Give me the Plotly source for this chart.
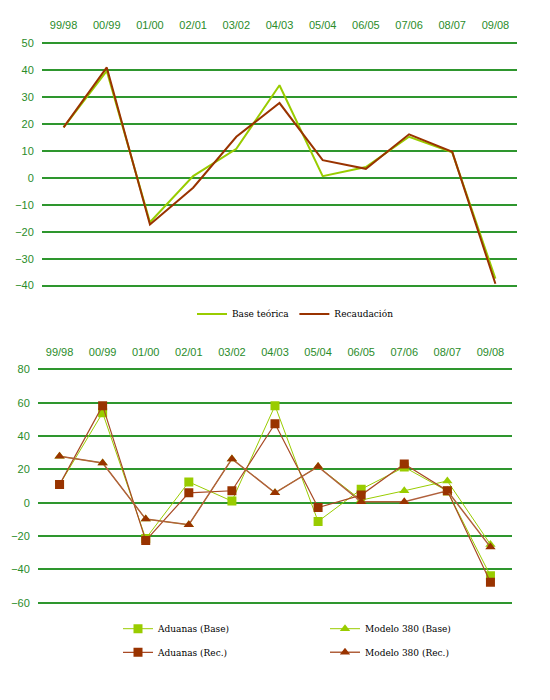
import plotly.graph_objects as go

# campaigns (shown on the top edge of both panels)
SEASONS = ["99/98", "00/99", "01/00", "02/01", "03/02", "04/03",
           "05/04", "06/05", "07/06", "08/07", "09/08"]

# upper panel
BASE_TEORICA = [18.7, 39.6, -16.5, 0.6, 10.7, 34.3, 0.6, 4.0, 15.2, 9.4, -37.4]
RECAUDACION = [18.7, 40.9, -17.3, -3.7, 15.2, 27.7, 6.5, 3.3, 16.1, 9.6, -39.3]

# lower panel
ADUANAS_BASE = [10.9, 54.0, -21.5, 12.5, 1.0, 58.3, -11.2, 8.1, 21.4, 7.0, -43.8]
MODELO_BASE = [27.9, 23.9, -9.8, -13.2, 26.3, 6.0, 21.7, 1.6, 7.2, 13.1, -25.0]
ADUANAS_REC = [10.9, 58.3, -22.7, 6.0, 7.2, 47.4, -2.9, 4.6, 23.3, 7.2, -47.7]
MODELO_REC = [27.9, 23.9, -9.8, -13.2, 26.3, 6.0, 21.7, 0.6, 0.6, 7.2, -26.6]

GREEN = "#99cc00"
RED = "#993300"
GRID = "#2e962e"
TICK_TXT = "#2a8c2a"
SERIF = "DejaVu Serif"   # the only serif face that resolves here

# page body has an 8px margin; keep the figure a bit short so the page
# never overflows the window
OFF = 8
W, H = 550 - 2 * OFF, 676


def px_x(x):
    return (x - OFF) / W


def px_y(y):
    return 1 - (y - OFF) / H


fig = go.Figure()

# upper chart: plain lines
fig.add_trace(go.Scatter(x=SEASONS, y=BASE_TEORICA, name="Base teórica", mode="lines",
                         line=dict(color=GREEN, width=2), legend="legend"))
fig.add_trace(go.Scatter(x=SEASONS, y=RECAUDACION, name="Recaudación", mode="lines",
                         line=dict(color=RED, width=2), legend="legend"))

# lower chart: lines + markers, one legend box per entry so the 2x2 grid lines up
lower = [
    ("Aduanas (Base)", ADUANAS_BASE, GREEN, GREEN, 1, "square", "legend2"),
    ("Modelo 380 (Base)", MODELO_BASE, GREEN, GREEN, 1, "triangle-up", "legend3"),
    ("Aduanas (Rec.)", ADUANAS_REC, RED, "#a84a25", 1.2, "square", "legend4"),
    ("Modelo 380 (Rec.)", MODELO_REC, RED, "#b0603c", 1.5, "triangle-up", "legend5"),
]
for name, vals, col, lcol, lw, sym, leg in lower:
    fig.add_trace(go.Scatter(x=SEASONS, y=vals, name=name, mode="lines+markers",
                             line=dict(color=lcol, width=lw),
                             marker=dict(symbol=sym, size=9, color=col),
                             xaxis="x2", yaxis="y2", legend=leg))


def xstyle(left, right):
    return dict(type="category", side="top", range=[-0.5, len(SEASONS) - 0.5],
                domain=[px_x(left), px_x(right)], showgrid=False, zeroline=False,
                showline=False, ticks="outside", ticklen=7, tickcolor="rgba(0,0,0,0)",
                tickfont=dict(family="Liberation Sans", size=11, color=TICK_TXT))


def ystyle(top, bottom, lo, hi, step, pad_px=1.5):
    # pad the range a touch so the first and last gridlines are drawn
    per_px = (hi - lo) / (bottom - top)
    pad = pad_px * per_px
    return dict(range=[lo - pad, hi + pad], dtick=step, tick0=0,
                domain=[px_y(bottom + pad_px), px_y(top - pad_px)],
                showgrid=True, gridcolor=GRID, gridwidth=1.5,
                zeroline=True, zerolinecolor=GRID, zerolinewidth=1.5,
                showline=False, ticks="outside", ticklen=5, tickcolor="rgba(0,0,0,0)",
                tickfont=dict(family="Liberation Sans", size=11, color=TICK_TXT))


def leg(x, y, horiz=False):
    return dict(x=px_x(x), y=px_y(y), xanchor="left", yanchor="middle",
                orientation="h" if horiz else "v", bgcolor="rgba(0,0,0,0)",
                font=dict(family=SERIF, size=9, color="black"),
                tracegroupgap=0)


fig.update_layout(
    width=W, height=H,
    margin=dict(l=0, r=0, t=0, b=0),
    paper_bgcolor="white", plot_bgcolor="white",
    xaxis=dict(xstyle(42, 517), anchor="y"),
    yaxis=dict(ystyle(38.3, 284.3, -40, 50, 10), anchor="x"),
    xaxis2=dict(xstyle(38, 512), anchor="y2"),
    yaxis2=dict(ystyle(369.3, 605.7, -60, 80, 20), anchor="x2"),
    legend=leg(192, 313, horiz=True),
    legend2=leg(118, 632),
    legend3=leg(325, 632),
    legend4=leg(118, 656),
    legend5=leg(325, 656),
)

fig.write_html("out.html")
